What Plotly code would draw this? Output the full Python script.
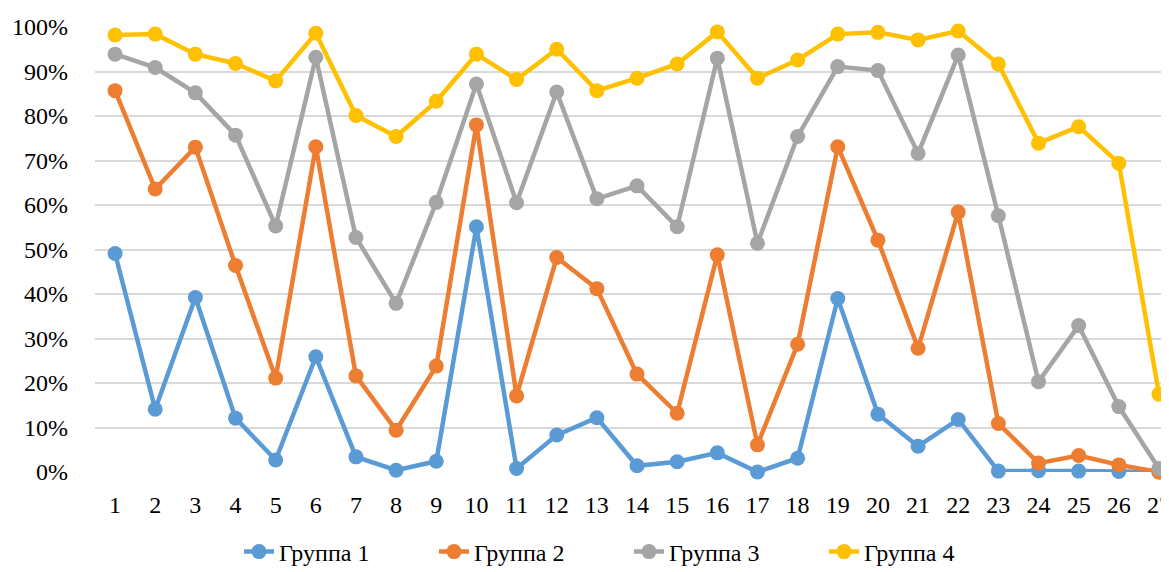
import plotly.graph_objects as go

categories = list(range(1, 28))

group1 = [49.1, 14.1, 39.2, 12.1, 2.7, 25.9, 3.4, 0.4, 2.4, 55.1, 0.8, 8.3, 12.2, 1.4,
          2.3, 4.3, 0.0, 3.1, 39.0, 13.0, 5.8, 11.8, 0.2, 0.3, 0.2, 0.1, 0.0]
group2 = [85.7, 63.6, 73.0, 46.4, 21.1, 73.1, 21.6, 9.4, 23.8, 78.0, 17.1, 48.2, 41.2, 22.0,
          13.2, 48.8, 6.1, 28.7, 73.1, 52.1, 27.8, 58.4, 10.9, 2.0, 3.7, 1.6, 0.0]
group3 = [93.9, 90.9, 85.2, 75.7, 55.3, 93.2, 52.7, 37.9, 60.6, 87.2, 60.5, 85.4, 61.4, 64.3,
          55.1, 93.0, 51.4, 75.4, 91.1, 90.2, 71.6, 93.7, 57.6, 20.3, 32.9, 14.7, 0.8]
group4 = [98.2, 98.4, 93.9, 91.8, 87.9, 98.6, 80.1, 75.4, 83.3, 93.9, 88.2, 95.0, 85.7, 88.5,
          91.7, 98.9, 88.5, 92.6, 98.4, 98.8, 97.1, 99.1, 91.7, 73.9, 77.6, 69.4, 17.5]

series = [
    ("Группа 1", group1, "#5B9BD5"),
    ("Группа 2", group2, "#ED7D31"),
    ("Группа 3", group3, "#A5A5A5"),
    ("Группа 4", group4, "#FFC000"),
]

FONT = "Liberation Serif, Times New Roman, serif"

# the page body has an 8px margin, so the figure is sized to fit inside the window
W, H = 1161, 564

fig = go.Figure()
for name, vals, color in series:
    fig.add_trace(
        go.Scatter(
            x=categories,
            y=[v / 100 for v in vals],
            mode="lines+markers",
            name=name,
            line=dict(color=color, width=4.5),
            marker=dict(color=color, size=15),
            cliponaxis=False,
        )
    )

fig.update_layout(
    width=W,
    height=H,
    margin=dict(l=87, r=0, t=19, b=100),
    plot_bgcolor="white",
    paper_bgcolor="white",
    font=dict(family=FONT, size=24, color="#000000"),
    showlegend=True,
    legend=dict(
        orientation="h",
        xref="container",
        yref="container",
        x=231 / W,
        xanchor="left",
        y=1 - 544 / H,
        yanchor="middle",
        font=dict(family=FONT, size=24, color="#000000"),
        entrywidth=150,
        entrywidthmode="pixels",
        tracegroupgap=0,
    ),
    xaxis=dict(
        range=[0.5, 27.25],
        tickmode="array",
        tickvals=categories,
        ticktext=[str(c) for c in categories],
        showgrid=False,
        zeroline=False,
        showline=False,
        ticks="",
        ticklabelstandoff=16,
        ticklabeloverflow="allow",
        automargin=False,
    ),
    yaxis=dict(
        range=[0, 1],
        dtick=0.1,
        tickformat=".0%",
        showgrid=True,
        gridcolor="#D9D9D9",
        gridwidth=1.5,
        zeroline=False,
        showline=False,
        ticks="",
        ticklabelstandoff=26,
        automargin=False,
    ),
)

fig.write_html("out.html")
